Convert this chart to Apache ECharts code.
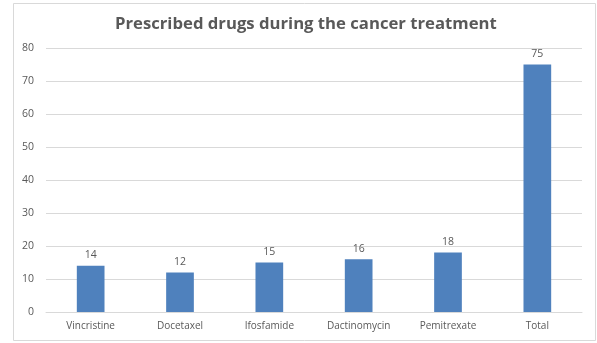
<!DOCTYPE html>
<html>

<head>
	<meta charset="UTF-8">
	<title></title>
	<style>
		body {
			margin: 0;
		}

		#chart {
			width: 597px;
			height: 343px;
		}
	</style>
	<script src="https://cdn.jsdelivr.net/npm/echarts@6/dist/echarts.min.js"></script>
</head>

<body>
	<div id="chart"></div>
	<script>
		var drugs = ['Vincristine', 'Docetaxel', 'Ifosfamide', 'Dactinomycin', 'Pemitrexate', 'Total'];
		var counts = [14, 12, 15, 16, 18, 75];

		var mychart = echarts.init(document.getElementById('chart'));
		mychart.setOption({
			animation: false,
			backgroundColor: '#fff',
			textStyle: {
				fontFamily: 'Open Sans'
			},
			graphic: [
				{
					type: 'rect',
					shape: { x: 13.5, y: 3.5, width: 582, height: 337 },
					style: { fill: 'none', stroke: '#d9d9d9', lineWidth: 1 }
				}
			],
			title: {
				text: 'Prescribed drugs during the cancer treatment',
				left: 110,
				top: 11,
				textStyle: {
					fontFamily: 'Open Sans',
					fontSize: 16.7,
					fontWeight: 'bold',
					color: '#595959'
				}
			},
			grid: {
				left: 46,
				right: 15,
				top: 48,
				bottom: 31
			},
			xAxis: {
				type: 'category',
				data: drugs,
				axisTick: { show: false },
				axisLine: {
					lineStyle: { color: '#d9d9d9' }
				},
				axisLabel: {
					interval: 0,
					color: '#595959',
					fontSize: 10,
					margin: 9
				}
			},
			yAxis: {
				type: 'value',
				min: 0,
				max: 80,
				interval: 10,
				axisLabel: {
					color: '#595959',
					fontSize: 10.5,
					margin: 12
				},
				splitLine: {
					lineStyle: { color: '#d9d9d9' }
				}
			},
			series: [
				{
					type: 'bar',
					data: counts,
					barWidth: '31%',
					itemStyle: {
						color: '#4f81bd'
					},
					label: {
						show: true,
						position: 'top',
						distance: 5,
						color: '#595959',
						fontSize: 10.5
					}
				}
			]
		});
	</script>
</body>

</html>
